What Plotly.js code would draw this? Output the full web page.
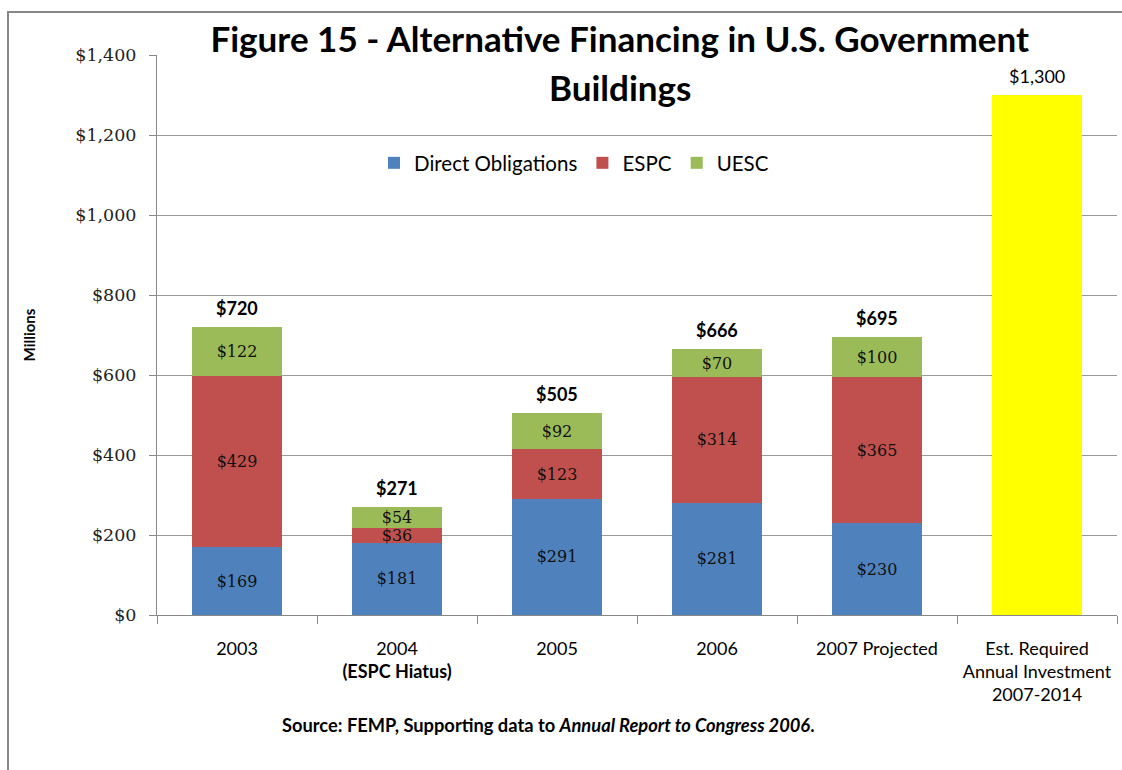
<!DOCTYPE html>
<html>
<head>
<meta charset="utf-8">
<script src="https://cdn.plot.ly/plotly-3.0.1.min.js"></script>
<style>
html,body{margin:0;padding:0;background:#fff;}
#chart{width:1122px;height:770px;}
</style>
</head>
<body>
<div id="chart"></div>
<script>
const categories = ['2003', '2004', '2005', '2006', '2007 Projected', 'Est'];
const tickLabels = ['2003', '2004<br><b style="font-size:18px">(ESPC Hiatus)</b>', '2005', '2006', '2007 Projected', 'Est. Required<br>Annual Investment<br>2007-2014'];
const directObligations = [169, 181, 291, 281, 230, null];
const espc = [429, 36, 123, 314, 365, null];
const uesc = [122, 54, 92, 70, 100, null];
const estRequired = [null, null, null, null, null, 1300];
const totals = [720, 271, 505, 666, 695, 1300];

const segFont = {family: 'DejaVu Serif, Liberation Serif, serif', size: 16, color: '#111'};

function segTrace(name, vals, color, show) {
  return {
    type: 'bar', name: name, x: categories, y: vals,
    marker: {color: color},
    text: vals.map(v => v == null ? '' : '$' + v),
    textposition: 'inside', insidetextanchor: 'middle',
    constraintext: 'none', textangle: 0,
    textfont: segFont, showlegend: show, hoverinfo: 'x+y'
  };
}

const traces = [
  segTrace('Direct Obligations', directObligations, '#4F81BD', true),
  segTrace('ESPC', espc, '#C0504D', true),
  segTrace('UESC', uesc, '#9BBB59', true),
  {type: 'bar', name: 'Est. Required', x: categories, y: estRequired,
   marker: {color: '#FFFF00'}, showlegend: false}
];

const annotations = totals.map((v, i) => ({
  x: i, y: v, xref: 'x', yref: 'y',
  text: i < 5 ? '<b>$' + v.toLocaleString('en-US') + '</b>' : '$' + v.toLocaleString('en-US'),
  showarrow: false, yanchor: 'bottom', yshift: 6,
  font: {family: 'Lato, Open Sans, sans-serif', size: 18, color: '#000'}
}));
annotations.push({
  x: 0.482, y: 0.943, xref: 'paper', yref: 'paper', xanchor: 'center', yanchor: 'middle',
  text: '<b>Buildings</b>', showarrow: false,
  font: {family: 'Lato, Open Sans, sans-serif', size: 35, color: '#000'}
});
annotations.push({
  x: (548 - 157) / 960, y: (615 - 725) / 560, xref: 'paper', yref: 'paper',
  xanchor: 'center', yanchor: 'middle', showarrow: false,
  text: '<b>Source: FEMP, Supporting data to <i>Annual Report to Congress 2006</i>.</b>',
  font: {family: 'Lato, Open Sans, sans-serif', size: 18.3, color: '#000'}
});

const layout = {
  width: 1122, height: 770,
  margin: {l: 157, r: 5, t: 55, b: 155},
  paper_bgcolor: '#fff', plot_bgcolor: '#fff',
  barmode: 'stack', bargap: 0.44,
  title: {
    text: '<b>Figure 15 - Alternative Financing in U.S. Government</b>',
    x: 0.482, xref: 'paper', xanchor: 'center',
    y: 1 - 40 / 770, yref: 'container', yanchor: 'middle',
    font: {family: 'Lato, Open Sans, sans-serif', size: 35, color: '#000'}
  },
  xaxis: {
    type: 'category', categoryorder: 'array', categoryarray: categories,
    tickvals: categories, ticktext: tickLabels,
    tickson: 'boundaries', ticks: 'outside', ticklen: 8, tickcolor: '#888',
    ticklabelstandoff: 17,
    showline: true, linecolor: '#888', linewidth: 1,
    showgrid: false, fixedrange: true, range: [-0.5, 5.5],
    tickfont: {family: 'Lato, Open Sans, sans-serif', size: 18, color: '#000'}
  },
  yaxis: {
    range: [0, 1400], dtick: 200, tickprefix: '$', separatethousands: true,
    tickformat: ',d',
    ticks: 'outside', ticklen: 7, tickcolor: '#888',
    ticklabelstandoff: 9,
    showline: true, linecolor: '#888', linewidth: 1,
    gridcolor: '#999', gridwidth: 1, zeroline: false,
    tickfont: {family: 'DejaVu Serif, Liberation Serif, serif', size: 17.5, color: '#222'},
    title: {text: '<b>Millions</b>', standoff: 36,
            font: {family: 'Lato, Open Sans, sans-serif', size: 15, color: '#000'}}
  },
  legend: {
    orientation: 'h', x: (574 - 157) / 960, xanchor: 'center',
    y: (615 - 163) / 560, yanchor: 'middle',
    bgcolor: 'rgba(0,0,0,0)',
    font: {family: 'Lato, Open Sans, sans-serif', size: 20.5, color: '#000'},
    traceorder: 'normal'
  },
  annotations: annotations,
  shapes: [{
    type: 'rect', xref: 'paper', yref: 'paper',
    x0: (8 - 157) / 960, x1: 1.05, y0: -0.35, y1: (615 - 12) / 560,
    line: {color: '#888', width: 2}, fillcolor: 'rgba(0,0,0,0)', layer: 'below'
  }],
  showlegend: true
};

Plotly.newPlot('chart', traces, layout, {displayModeBar: false, staticPlot: true});
</script>
</body>
</html>
